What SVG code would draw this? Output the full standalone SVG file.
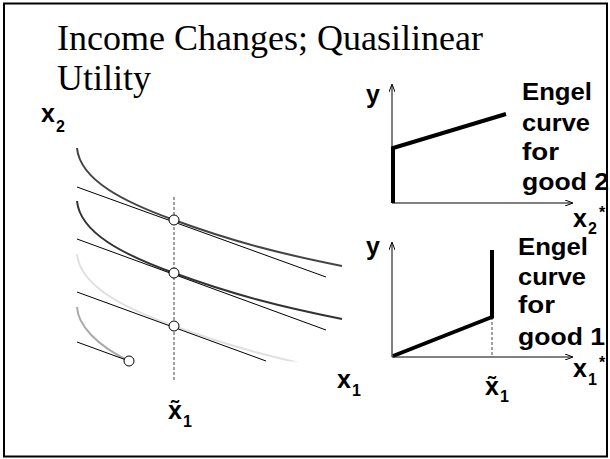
<svg xmlns="http://www.w3.org/2000/svg" width="610" height="459" viewBox="0 0 610 459">
<style>
.title{font-family:"Liberation Serif","Times New Roman",serif;font-size:36px;fill:#000}
.lbl{font-family:"Liberation Sans",Arial,sans-serif;font-weight:bold;font-size:25px;fill:#000}
.sub{font-family:"Liberation Sans",Arial,sans-serif;font-weight:bold;font-size:16px;fill:#000}
.eng{font-family:"Liberation Sans",Arial,sans-serif;font-weight:bold;font-size:24px;fill:#000}
.bl{fill:none;stroke:#000;stroke-width:1}
.ic{fill:none;stroke-width:2}
.pt{fill:#fff;stroke:#000;stroke-width:1}
.dash{fill:none;stroke:#444;stroke-width:1;stroke-dasharray:3 2}
.axis{fill:none;stroke:#000;stroke-width:1;marker-end:url(#ah)}
.engel{fill:none;stroke:#000;stroke-width:4;stroke-linejoin:miter}
</style>
<defs>
<marker id="ah" markerWidth="8" markerHeight="6" refX="7" refY="3" orient="auto" markerUnits="userSpaceOnUse">
<path d="M0,0 L8,3 L0,6" fill="none" stroke="#000" stroke-width="1"/>
</marker>
<path id="icurve" d="M77,148 C80,180 124,202 174,220 C234,242 282,254 342,266"/>
<clipPath id="clipAxis"><rect x="60" y="100" width="300" height="261.5"/></clipPath>
</defs>
<rect x="4" y="3.5" width="603" height="453" fill="#fff" stroke="#000" stroke-width="2"/>
<g id="title">
<text class="title" x="57" y="50">Income Changes; Quasilinear</text>
<text class="title" x="57" y="90">Utility</text>
</g>
<g id="indifference-map">
<g clip-path="url(#clipAxis)">
<use href="#icurve" class="ic" stroke="#444"/>
<use href="#icurve" class="ic" stroke="#333" transform="translate(0,53)"/>
<use href="#icurve" class="ic" stroke="#e0e0e0" transform="translate(0,106)"/>
<path d="M77,307 C78,325 96,345 129,361" class="ic" stroke="#aaa"/>
</g>
</g>
<g id="connectors">
<line class="bl" x1="77" y1="187" x2="326" y2="277"/>
<line class="bl" x1="77" y1="239" x2="326" y2="330"/>
<line class="bl" x1="77" y1="292" x2="266" y2="361"/>
<line class="bl" x1="77" y1="342" x2="129" y2="361"/>
<line class="dash" x1="174" y1="197" x2="174" y2="381"/>
<line class="axis" x1="392" y1="203" x2="392" y2="85"/>
<line class="axis" x1="392" y1="203" x2="572" y2="203"/>
<line class="axis" x1="392" y1="357" x2="392" y2="243"/>
<line class="axis" x1="392" y1="357" x2="572" y2="357"/>
<line class="dash" x1="492" y1="317" x2="492" y2="357"/>
</g>
<g id="optima">
<circle class="pt" cx="174" cy="220" r="5"/>
<circle class="pt" cx="174" cy="273" r="5"/>
<circle class="pt" cx="174" cy="326" r="5"/>
<circle class="pt" cx="129" cy="361" r="5"/>
</g>
<g id="engel-good2">
<polyline class="engel" points="393,203 393,148 506,114"/>
</g>
<g id="engel-good1">
<polyline class="engel" points="393,356 492,317 492,250"/>
</g>
<g id="labels">
<text class="lbl" x="41" y="122">x</text><text class="sub" x="56" y="132">2</text>
<text class="lbl" x="337" y="388">x</text><text class="sub" x="352" y="396">1</text>
<text class="lbl" x="168" y="419">x̃</text><text class="sub" x="183" y="427">1</text>
<text class="lbl" x="366" y="103">y</text>
<text class="lbl" x="366" y="255">y</text>
<text class="lbl" x="573" y="227">x</text><text class="sub" x="588" y="234">2</text><text class="sub" x="599" y="218" font-size="18">*</text>
<text class="lbl" x="573" y="377">x</text><text class="sub" x="588" y="385">1</text><text class="sub" x="599" y="368" font-size="18">*</text>
<text class="lbl" x="485" y="395">x̃</text><text class="sub" x="500" y="402">1</text>
</g>
<g id="engel-text-2">
<text class="eng" x="522" y="100" textLength="70" lengthAdjust="spacingAndGlyphs">Engel</text>
<text class="eng" x="522" y="131" textLength="68" lengthAdjust="spacingAndGlyphs">curve</text>
<text class="eng" x="522" y="160" textLength="37" lengthAdjust="spacingAndGlyphs">for</text>
<text class="eng" x="522" y="190" textLength="87" lengthAdjust="spacingAndGlyphs">good 2</text>
</g>
<g id="engel-text-1">
<text class="eng" x="518" y="255" textLength="70" lengthAdjust="spacingAndGlyphs">Engel</text>
<text class="eng" x="518" y="285" textLength="68" lengthAdjust="spacingAndGlyphs">curve</text>
<text class="eng" x="518" y="313" textLength="37" lengthAdjust="spacingAndGlyphs">for</text>
<text class="eng" x="518" y="345" textLength="87" lengthAdjust="spacingAndGlyphs">good 1</text>
</g>
</svg>
